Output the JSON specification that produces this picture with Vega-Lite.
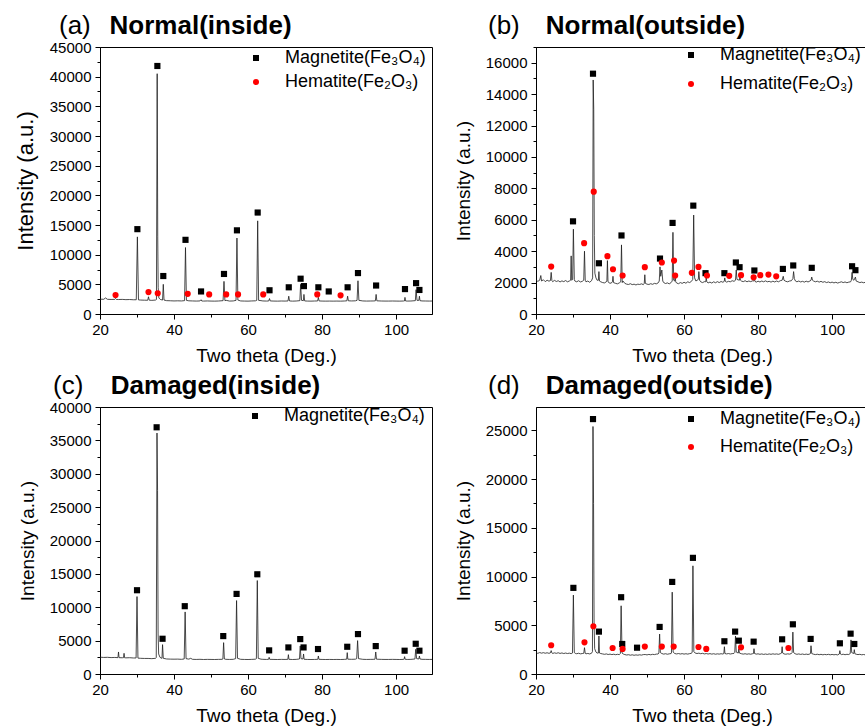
{
"$schema": "https://vega.github.io/schema/vega-lite/v6.json",
"padding": {"left": 13, "top": 12, "right": 0, "bottom": 0},
"columns": 2,
"bounds": "flush",
"spacing": {"row": 93, "column": 104},
"resolve": {"scale": {"color": "independent", "shape": "independent", "x": "independent", "y": "independent"}},
"config": {
  "font": "Liberation Sans",
  "view": {"stroke": "#000000", "strokeWidth": 1},
  "axis": {"grid": false, "domainColor": "#000000", "tickColor": "#000000", "labelColor": "#000000", "titleColor": "#000000", "labelFont": "Liberation Sans", "titleFont": "Liberation Sans", "labelFontSize": 15, "titleFontSize": 19, "titleFontWeight": "normal", "labelFlush": false, "labelOverlap": false},
  "axisX": {"labelPadding": 3, "titlePadding": 9},
  "axisY": {"labelPadding": 4, "titlePadding": 12},
  "title": {"anchor": "start", "frame": "group", "fontSize": 26, "fontWeight": "normal", "font": "Liberation Sans", "color": "#000000", "subtitleFontSize": 26, "subtitleFontWeight": "bold", "subtitleFont": "Liberation Sans", "subtitleColor": "#000000", "subtitlePadding": -26, "offset": 1},
  "legend": {"orient": "none", "title": null, "labelFont": "Liberation Sans", "labelFontSize": 18, "labelColor": "#000000", "labelLimit": 400, "symbolSize": 36, "symbolStrokeWidth": 0, "labelOffset": 20, "rowPadding": 6}
},
"datasets": {
"la": [{"x":20,"y":2500},{"x":21,"y":2480},{"x":21.5,"y":2700},{"x":22,"y":2480},{"x":23,"y":2450},{"x":24,"y":2470},{"x":24.2,"y":2620},{"x":24.4,"y":2460},{"x":25,"y":2440},{"x":26,"y":2460},{"x":27,"y":2420},{"x":28,"y":2440},{"x":29,"y":2400},{"x":29.8,"y":2400},{"x":30.1,"y":13000},{"x":30.4,"y":2380},{"x":31,"y":2350},{"x":32,"y":2330},{"x":32.9,"y":2320},{"x":33.1,"y":2900},{"x":33.3,"y":2330},{"x":34,"y":2300},{"x":35,"y":2350},{"x":35.25,"y":2450},{"x":35.45,"y":40500},{"x":35.6,"y":13000},{"x":35.72,"y":4500},{"x":35.9,"y":2700},{"x":36.3,"y":2450},{"x":36.9,"y":2350},{"x":37.1,"y":5000},{"x":37.3,"y":2350},{"x":38,"y":2250},{"x":39,"y":2230},{"x":40,"y":2200},{"x":41,"y":2220},{"x":42,"y":2200},{"x":42.85,"y":2250},{"x":43.1,"y":11200},{"x":43.35,"y":2300},{"x":44,"y":2220},{"x":45,"y":2200},{"x":46,"y":2180},{"x":47,"y":2200},{"x":47.3,"y":2400},{"x":47.5,"y":2190},{"x":48,"y":2180},{"x":49,"y":2200},{"x":50,"y":2180},{"x":51,"y":2170},{"x":52,"y":2190},{"x":53.25,"y":2250},{"x":53.5,"y":5500},{"x":53.75,"y":2250},{"x":54.1,"y":2300},{"x":55,"y":2180},{"x":56,"y":2200},{"x":56.75,"y":2300},{"x":57.0,"y":12800},{"x":57.25,"y":2350},{"x":58,"y":2200},{"x":59,"y":2180},{"x":60,"y":2170},{"x":61,"y":2200},{"x":62,"y":2220},{"x":62.35,"y":2300},{"x":62.6,"y":15700},{"x":62.85,"y":2300},{"x":63.5,"y":2250},{"x":64,"y":2200},{"x":65,"y":2180},{"x":65.6,"y":2200},{"x":65.8,"y":2600},{"x":66.0,"y":2200},{"x":67,"y":2180},{"x":68,"y":2170},{"x":69,"y":2190},{"x":70,"y":2180},{"x":70.8,"y":2200},{"x":71.0,"y":3000},{"x":71.2,"y":2200},{"x":72,"y":2170},{"x":73,"y":2190},{"x":74.0,"y":2250},{"x":74.2,"y":5000},{"x":74.45,"y":2300},{"x":74.95,"y":2250},{"x":75.1,"y":3300},{"x":75.3,"y":2200},{"x":76,"y":2180},{"x":77,"y":2170},{"x":78,"y":2190},{"x":78.8,"y":2200},{"x":79.0,"y":2800},{"x":79.2,"y":2200},{"x":80,"y":2180},{"x":81,"y":2170},{"x":82,"y":2180},{"x":83,"y":2170},{"x":84,"y":2180},{"x":85,"y":2170},{"x":86,"y":2190},{"x":86.7,"y":2220},{"x":86.9,"y":3000},{"x":87.1,"y":2220},{"x":88,"y":2200},{"x":89,"y":2220},{"x":89.45,"y":2300},{"x":89.7,"y":5600},{"x":89.95,"y":2300},{"x":91,"y":2200},{"x":92,"y":2180},{"x":93,"y":2190},{"x":94,"y":2200},{"x":94.4,"y":2220},{"x":94.6,"y":3300},{"x":94.8,"y":2220},{"x":96,"y":2190},{"x":97,"y":2180},{"x":98,"y":2180},{"x":99,"y":2190},{"x":100,"y":2180},{"x":101,"y":2170},{"x":102,"y":2190},{"x":102.25,"y":2200},{"x":102.4,"y":2800},{"x":102.55,"y":2200},{"x":103,"y":2180},{"x":104,"y":2190},{"x":105.2,"y":2250},{"x":105.4,"y":4100},{"x":105.65,"y":2300},{"x":106.15,"y":2300},{"x":106.3,"y":3000},{"x":106.45,"y":2250},{"x":107,"y":2200},{"x":108,"y":2190},{"x":109,"y":2180},{"x":110,"y":2190}],
"pa": [{"x":30.1,"y":14300,"phase":"Magnetite(Fe₃O₄)"},{"x":35.5,"y":41800,"phase":"Magnetite(Fe₃O₄)"},{"x":37.1,"y":6400,"phase":"Magnetite(Fe₃O₄)"},{"x":43.1,"y":12500,"phase":"Magnetite(Fe₃O₄)"},{"x":47.3,"y":3800,"phase":"Magnetite(Fe₃O₄)"},{"x":53.5,"y":6750,"phase":"Magnetite(Fe₃O₄)"},{"x":57.0,"y":14100,"phase":"Magnetite(Fe₃O₄)"},{"x":62.6,"y":17100,"phase":"Magnetite(Fe₃O₄)"},{"x":65.8,"y":4000,"phase":"Magnetite(Fe₃O₄)"},{"x":71.0,"y":4500,"phase":"Magnetite(Fe₃O₄)"},{"x":74.2,"y":5950,"phase":"Magnetite(Fe₃O₄)"},{"x":75.1,"y":4700,"phase":"Magnetite(Fe₃O₄)"},{"x":79.0,"y":4500,"phase":"Magnetite(Fe₃O₄)"},{"x":81.8,"y":3800,"phase":"Magnetite(Fe₃O₄)"},{"x":86.9,"y":4500,"phase":"Magnetite(Fe₃O₄)"},{"x":89.7,"y":6900,"phase":"Magnetite(Fe₃O₄)"},{"x":94.6,"y":4800,"phase":"Magnetite(Fe₃O₄)"},{"x":102.4,"y":4200,"phase":"Magnetite(Fe₃O₄)"},{"x":105.4,"y":5200,"phase":"Magnetite(Fe₃O₄)"},{"x":106.3,"y":4050,"phase":"Magnetite(Fe₃O₄)"},{"x":24.2,"y":3200,"phase":"Hematite(Fe₂O₃)"},{"x":33.1,"y":3700,"phase":"Hematite(Fe₂O₃)"},{"x":35.6,"y":3500,"phase":"Hematite(Fe₂O₃)"},{"x":43.7,"y":3400,"phase":"Hematite(Fe₂O₃)"},{"x":49.5,"y":3300,"phase":"Hematite(Fe₂O₃)"},{"x":54.1,"y":3300,"phase":"Hematite(Fe₂O₃)"},{"x":57.3,"y":3300,"phase":"Hematite(Fe₂O₃)"},{"x":64.1,"y":3300,"phase":"Hematite(Fe₂O₃)"},{"x":78.7,"y":3300,"phase":"Hematite(Fe₂O₃)"},{"x":85.0,"y":3150,"phase":"Hematite(Fe₂O₃)"}],
"lb": [{"x":20,"y":2150},{"x":20.5,"y":2080},{"x":21,"y":2150},{"x":21.3,"y":2450},{"x":21.5,"y":2100},{"x":22,"y":2180},{"x":22.5,"y":2060},{"x":23,"y":2150},{"x":23.5,"y":2090},{"x":23.9,"y":2130},{"x":24.1,"y":2650},{"x":24.3,"y":2120},{"x":24.5,"y":2060},{"x":25,"y":2140},{"x":25.5,"y":2070},{"x":26,"y":2120},{"x":26.5,"y":2040},{"x":27,"y":2110},{"x":27.5,"y":2060},{"x":28,"y":2130},{"x":28.5,"y":2050},{"x":29,"y":2100},{"x":29.35,"y":2150},{"x":29.5,"y":3700},{"x":29.65,"y":2150},{"x":29.9,"y":2200},{"x":30.1,"y":5400},{"x":30.35,"y":2200},{"x":30.5,"y":2100},{"x":31,"y":2050},{"x":31.5,"y":2120},{"x":32,"y":2040},{"x":32.5,"y":2080},{"x":32.9,"y":2150},{"x":33.1,"y":4000},{"x":33.3,"y":2150},{"x":33.5,"y":2050},{"x":34,"y":2100},{"x":34.5,"y":2020},{"x":35,"y":2120},{"x":35.3,"y":2300},{"x":35.45,"y":14900},{"x":35.6,"y":13000},{"x":35.75,"y":5000},{"x":35.9,"y":2600},{"x":36.2,"y":2300},{"x":36.5,"y":2150},{"x":36.85,"y":2150},{"x":37.0,"y":2700},{"x":37.15,"y":2100},{"x":37.5,"y":2050},{"x":38,"y":2000},{"x":38.5,"y":1980},{"x":39,"y":2050},{"x":39.15,"y":2100},{"x":39.3,"y":3400},{"x":39.45,"y":2050},{"x":40,"y":1950},{"x":40.5,"y":2000},{"x":40.65,"y":2050},{"x":40.8,"y":2400},{"x":40.95,"y":2000},{"x":41.5,"y":1950},{"x":42,"y":1920},{"x":42.5,"y":1980},{"x":42.9,"y":2050},{"x":43.1,"y":4400},{"x":43.3,"y":2000},{"x":43.5,"y":2100},{"x":44,"y":1950},{"x":44.5,"y":1900},{"x":45,"y":1880},{"x":45.5,"y":1930},{"x":46,"y":1870},{"x":46.5,"y":1900},{"x":47,"y":1850},{"x":47.5,"y":1900},{"x":48,"y":1880},{"x":48.5,"y":1920},{"x":49,"y":1870},{"x":49.25,"y":1950},{"x":49.4,"y":2500},{"x":49.55,"y":1950},{"x":50,"y":1900},{"x":50.5,"y":1880},{"x":51,"y":1930},{"x":51.5,"y":1890},{"x":52,"y":1950},{"x":52.5,"y":1920},{"x":53,"y":1980},{"x":53.3,"y":2100},{"x":53.5,"y":3000},{"x":53.7,"y":2400},{"x":54.0,"y":2800},{"x":54.25,"y":2100},{"x":54.5,"y":2000},{"x":55,"y":1940},{"x":55.5,"y":1980},{"x":56,"y":1920},{"x":56.5,"y":2000},{"x":56.8,"y":2100},{"x":57.0,"y":5200},{"x":57.2,"y":2150},{"x":57.45,"y":2100},{"x":57.6,"y":2400},{"x":57.75,"y":2050},{"x":58,"y":1970},{"x":58.5,"y":1930},{"x":59,"y":2000},{"x":59.5,"y":1950},{"x":60,"y":2020},{"x":60.5,"y":1960},{"x":61,"y":2050},{"x":61.5,"y":2000},{"x":62,"y":2080},{"x":62.35,"y":2200},{"x":62.6,"y":6300},{"x":62.85,"y":2300},{"x":63.2,"y":2100},{"x":63.85,"y":2200},{"x":64.0,"y":2700},{"x":64.2,"y":2150},{"x":64.5,"y":2050},{"x":65,"y":2000},{"x":65.5,"y":2060},{"x":65.85,"y":2050},{"x":66.0,"y":2300},{"x":66.15,"y":2050},{"x":66.5,"y":1980},{"x":67,"y":2030},{"x":67.5,"y":1970},{"x":68,"y":2050},{"x":68.5,"y":1990},{"x":69,"y":2060},{"x":69.5,"y":2000},{"x":70,"y":2070},{"x":70.5,"y":2020},{"x":70.85,"y":2080},{"x":71.0,"y":2300},{"x":71.15,"y":2080},{"x":71.5,"y":2030},{"x":72,"y":2080},{"x":72.5,"y":2050},{"x":73,"y":2120},{"x":73.5,"y":2080},{"x":73.9,"y":2150},{"x":74.1,"y":2800},{"x":74.3,"y":2200},{"x":74.95,"y":2150},{"x":75.1,"y":2400},{"x":75.25,"y":2150},{"x":75.5,"y":2100},{"x":76,"y":2060},{"x":76.5,"y":2120},{"x":77,"y":2050},{"x":77.5,"y":2100},{"x":78,"y":2060},{"x":78.5,"y":2110},{"x":78.85,"y":2100},{"x":79.0,"y":2250},{"x":79.15,"y":2080},{"x":79.5,"y":2030},{"x":80,"y":2090},{"x":80.5,"y":2040},{"x":81,"y":2100},{"x":81.5,"y":2050},{"x":82,"y":2110},{"x":82.5,"y":2050},{"x":83,"y":2080},{"x":83.5,"y":2030},{"x":84,"y":2090},{"x":84.5,"y":2040},{"x":85,"y":2100},{"x":85.5,"y":2050},{"x":86,"y":2120},{"x":86.5,"y":2150},{"x":86.8,"y":2400},{"x":87.0,"y":2150},{"x":87.5,"y":2080},{"x":88,"y":2050},{"x":88.5,"y":2100},{"x":89,"y":2120},{"x":89.4,"y":2250},{"x":89.6,"y":2700},{"x":89.8,"y":2250},{"x":90.1,"y":2100},{"x":90.5,"y":2050},{"x":91,"y":2100},{"x":91.5,"y":2040},{"x":92,"y":2080},{"x":92.5,"y":2030},{"x":93,"y":2090},{"x":93.5,"y":2040},{"x":94,"y":2100},{"x":94.3,"y":2150},{"x":94.5,"y":2350},{"x":94.7,"y":2150},{"x":95,"y":2100},{"x":95.5,"y":2050},{"x":96,"y":2090},{"x":96.5,"y":2030},{"x":97,"y":2080},{"x":97.5,"y":2020},{"x":98,"y":2060},{"x":98.5,"y":2000},{"x":99,"y":2040},{"x":99.5,"y":1990},{"x":100,"y":2030},{"x":100.5,"y":1980},{"x":101,"y":2020},{"x":101.5,"y":1970},{"x":102,"y":2010},{"x":102.5,"y":2050},{"x":103,"y":2000},{"x":103.5,"y":2040},{"x":104,"y":1990},{"x":104.5,"y":2030},{"x":105,"y":2050},{"x":105.2,"y":2150},{"x":105.4,"y":2650},{"x":105.6,"y":2200},{"x":105.9,"y":2150},{"x":106.3,"y":2350},{"x":106.5,"y":2100},{"x":107,"y":2050},{"x":107.5,"y":2000},{"x":108,"y":2030},{"x":108.5,"y":1990},{"x":109,"y":2020},{"x":109.5,"y":1980},{"x":110,"y":2000}],
"pb": [{"x":30.0,"y":5900,"phase":"Magnetite(Fe₃O₄)"},{"x":35.4,"y":15300,"phase":"Magnetite(Fe₃O₄)"},{"x":37.0,"y":3230,"phase":"Magnetite(Fe₃O₄)"},{"x":43.1,"y":5000,"phase":"Magnetite(Fe₃O₄)"},{"x":53.5,"y":3530,"phase":"Magnetite(Fe₃O₄)"},{"x":56.9,"y":5800,"phase":"Magnetite(Fe₃O₄)"},{"x":62.5,"y":6900,"phase":"Magnetite(Fe₃O₄)"},{"x":65.8,"y":2600,"phase":"Magnetite(Fe₃O₄)"},{"x":70.9,"y":2600,"phase":"Magnetite(Fe₃O₄)"},{"x":74.0,"y":3280,"phase":"Magnetite(Fe₃O₄)"},{"x":75.0,"y":2980,"phase":"Magnetite(Fe₃O₄)"},{"x":79.0,"y":2770,"phase":"Magnetite(Fe₃O₄)"},{"x":86.7,"y":2870,"phase":"Magnetite(Fe₃O₄)"},{"x":89.5,"y":3090,"phase":"Magnetite(Fe₃O₄)"},{"x":94.5,"y":2940,"phase":"Magnetite(Fe₃O₄)"},{"x":105.4,"y":3040,"phase":"Magnetite(Fe₃O₄)"},{"x":106.3,"y":2790,"phase":"Magnetite(Fe₃O₄)"},{"x":24.1,"y":3020,"phase":"Hematite(Fe₂O₃)"},{"x":33.0,"y":4510,"phase":"Hematite(Fe₂O₃)"},{"x":35.6,"y":7790,"phase":"Hematite(Fe₂O₃)"},{"x":39.3,"y":3680,"phase":"Hematite(Fe₂O₃)"},{"x":40.8,"y":2850,"phase":"Hematite(Fe₂O₃)"},{"x":43.4,"y":2450,"phase":"Hematite(Fe₂O₃)"},{"x":49.4,"y":2980,"phase":"Hematite(Fe₂O₃)"},{"x":54.0,"y":3280,"phase":"Hematite(Fe₂O₃)"},{"x":57.3,"y":3400,"phase":"Hematite(Fe₂O₃)"},{"x":57.6,"y":2450,"phase":"Hematite(Fe₂O₃)"},{"x":62.1,"y":2620,"phase":"Hematite(Fe₂O₃)"},{"x":63.9,"y":3000,"phase":"Hematite(Fe₂O₃)"},{"x":66.2,"y":2450,"phase":"Hematite(Fe₂O₃)"},{"x":72.2,"y":2430,"phase":"Hematite(Fe₂O₃)"},{"x":75.4,"y":2470,"phase":"Hematite(Fe₂O₃)"},{"x":78.8,"y":2340,"phase":"Hematite(Fe₂O₃)"},{"x":80.6,"y":2470,"phase":"Hematite(Fe₂O₃)"},{"x":82.8,"y":2510,"phase":"Hematite(Fe₂O₃)"},{"x":84.9,"y":2400,"phase":"Hematite(Fe₂O₃)"}],
"lc": [{"x":20,"y":2520},{"x":21,"y":2480},{"x":22,"y":2500},{"x":23,"y":2460},{"x":24,"y":2480},{"x":24.85,"y":2450},{"x":25.0,"y":3300},{"x":25.15,"y":2450},{"x":26,"y":2430},{"x":26.35,"y":2450},{"x":26.5,"y":3100},{"x":26.65,"y":2430},{"x":27,"y":2420},{"x":28,"y":2440},{"x":29,"y":2400},{"x":29.75,"y":2400},{"x":30.0,"y":11600},{"x":30.25,"y":2380},{"x":31,"y":2350},{"x":32,"y":2330},{"x":33,"y":2330},{"x":34,"y":2300},{"x":35,"y":2350},{"x":35.2,"y":2450},{"x":35.4,"y":36100},{"x":35.55,"y":27500},{"x":35.7,"y":6000},{"x":35.85,"y":3000},{"x":36.2,"y":2500},{"x":36.5,"y":2400},{"x":36.75,"y":2350},{"x":36.9,"y":4400},{"x":37.1,"y":2350},{"x":38,"y":2250},{"x":39,"y":2230},{"x":40,"y":2220},{"x":41,"y":2230},{"x":42,"y":2200},{"x":42.75,"y":2250},{"x":43.0,"y":9300},{"x":43.25,"y":2300},{"x":44,"y":2230},{"x":44.5,"y":2350},{"x":45,"y":2200},{"x":46,"y":2180},{"x":47,"y":2200},{"x":48,"y":2170},{"x":49,"y":2190},{"x":50,"y":2180},{"x":51,"y":2170},{"x":52,"y":2190},{"x":53,"y":2200},{"x":53.2,"y":2250},{"x":53.4,"y":4700},{"x":53.6,"y":2250},{"x":54,"y":2200},{"x":55,"y":2180},{"x":56,"y":2200},{"x":56.65,"y":2300},{"x":56.9,"y":11000},{"x":57.15,"y":2350},{"x":58,"y":2200},{"x":59,"y":2180},{"x":60,"y":2170},{"x":61,"y":2190},{"x":62,"y":2220},{"x":62.25,"y":2300},{"x":62.5,"y":14000},{"x":62.75,"y":2350},{"x":63.5,"y":2220},{"x":64,"y":2200},{"x":65,"y":2180},{"x":65.55,"y":2200},{"x":65.7,"y":2500},{"x":65.85,"y":2200},{"x":67,"y":2180},{"x":68,"y":2170},{"x":69,"y":2190},{"x":70,"y":2180},{"x":70.75,"y":2200},{"x":70.9,"y":2900},{"x":71.05,"y":2200},{"x":72,"y":2170},{"x":73,"y":2190},{"x":73.9,"y":2250},{"x":74.1,"y":4200},{"x":74.3,"y":2300},{"x":74.85,"y":2250},{"x":75.0,"y":3000},{"x":75.15,"y":2200},{"x":76,"y":2180},{"x":77,"y":2170},{"x":78,"y":2180},{"x":78.85,"y":2200},{"x":79.0,"y":2700},{"x":79.15,"y":2200},{"x":80,"y":2180},{"x":81,"y":2170},{"x":82,"y":2180},{"x":83,"y":2170},{"x":84,"y":2180},{"x":85,"y":2170},{"x":86,"y":2190},{"x":86.65,"y":2220},{"x":86.8,"y":3200},{"x":86.95,"y":2220},{"x":88,"y":2200},{"x":89,"y":2220},{"x":89.35,"y":2300},{"x":89.6,"y":5000},{"x":89.85,"y":2300},{"x":91,"y":2200},{"x":92,"y":2180},{"x":93,"y":2190},{"x":94,"y":2200},{"x":94.3,"y":2220},{"x":94.5,"y":3300},{"x":94.7,"y":2220},{"x":96,"y":2190},{"x":97,"y":2180},{"x":98,"y":2180},{"x":99,"y":2190},{"x":100,"y":2180},{"x":101,"y":2170},{"x":102,"y":2190},{"x":102.15,"y":2200},{"x":102.3,"y":2600},{"x":102.45,"y":2200},{"x":103,"y":2180},{"x":104,"y":2190},{"x":105.1,"y":2250},{"x":105.3,"y":3700},{"x":105.55,"y":2300},{"x":106.15,"y":2250},{"x":106.3,"y":2700},{"x":106.45,"y":2250},{"x":107,"y":2200},{"x":108,"y":2190},{"x":109,"y":2180},{"x":110,"y":2190}],
"pc": [{"x":30.0,"y":12550,"phase":"Magnetite(Fe₃O₄)"},{"x":35.3,"y":36960,"phase":"Magnetite(Fe₃O₄)"},{"x":36.9,"y":5280,"phase":"Magnetite(Fe₃O₄)"},{"x":42.9,"y":10160,"phase":"Magnetite(Fe₃O₄)"},{"x":53.3,"y":5680,"phase":"Magnetite(Fe₃O₄)"},{"x":56.9,"y":12000,"phase":"Magnetite(Fe₃O₄)"},{"x":62.5,"y":14940,"phase":"Magnetite(Fe₃O₄)"},{"x":65.7,"y":3540,"phase":"Magnetite(Fe₃O₄)"},{"x":70.9,"y":3980,"phase":"Magnetite(Fe₃O₄)"},{"x":74.1,"y":5230,"phase":"Magnetite(Fe₃O₄)"},{"x":75.0,"y":3980,"phase":"Magnetite(Fe₃O₄)"},{"x":78.9,"y":3740,"phase":"Magnetite(Fe₃O₄)"},{"x":86.8,"y":4080,"phase":"Magnetite(Fe₃O₄)"},{"x":89.7,"y":5980,"phase":"Magnetite(Fe₃O₄)"},{"x":94.5,"y":4180,"phase":"Magnetite(Fe₃O₄)"},{"x":102.3,"y":3490,"phase":"Magnetite(Fe₃O₄)"},{"x":105.3,"y":4530,"phase":"Magnetite(Fe₃O₄)"},{"x":106.3,"y":3490,"phase":"Magnetite(Fe₃O₄)"}],
"ld": [{"x":20,"y":2180},{"x":20.5,"y":2120},{"x":21,"y":2200},{"x":21.5,"y":2140},{"x":22,"y":2190},{"x":22.5,"y":2130},{"x":23,"y":2180},{"x":23.5,"y":2120},{"x":23.9,"y":2170},{"x":24.1,"y":2400},{"x":24.3,"y":2160},{"x":24.5,"y":2110},{"x":25,"y":2170},{"x":25.5,"y":2120},{"x":26,"y":2180},{"x":26.5,"y":2110},{"x":27,"y":2160},{"x":27.5,"y":2100},{"x":28,"y":2150},{"x":28.5,"y":2100},{"x":29,"y":2140},{"x":29.5,"y":2090},{"x":29.85,"y":2150},{"x":30.1,"y":8100},{"x":30.35,"y":2200},{"x":30.6,"y":2120},{"x":31,"y":2080},{"x":31.5,"y":2130},{"x":32,"y":2070},{"x":32.5,"y":2100},{"x":32.9,"y":2120},{"x":33.1,"y":2700},{"x":33.3,"y":2120},{"x":33.5,"y":2070},{"x":34,"y":2110},{"x":34.5,"y":2060},{"x":35,"y":2130},{"x":35.25,"y":2300},{"x":35.4,"y":25400},{"x":35.55,"y":17500},{"x":35.7,"y":5000},{"x":35.85,"y":2600},{"x":36.2,"y":2250},{"x":36.5,"y":2150},{"x":36.85,"y":2150},{"x":37.0,"y":3900},{"x":37.15,"y":2150},{"x":37.5,"y":2100},{"x":38,"y":2060},{"x":38.5,"y":2020},{"x":39,"y":2060},{"x":39.5,"y":2000},{"x":40,"y":2040},{"x":40.5,"y":1990},{"x":41,"y":2030},{"x":41.5,"y":1980},{"x":42,"y":2020},{"x":42.5,"y":1990},{"x":42.8,"y":2100},{"x":43.0,"y":7000},{"x":43.25,"y":2150},{"x":43.6,"y":2050},{"x":44,"y":1990},{"x":44.5,"y":1950},{"x":45,"y":1980},{"x":45.5,"y":1930},{"x":46,"y":1970},{"x":46.5,"y":1920},{"x":47,"y":1960},{"x":47.5,"y":1930},{"x":48,"y":1970},{"x":48.5,"y":1940},{"x":49,"y":1990},{"x":49.5,"y":2000},{"x":50,"y":1960},{"x":50.5,"y":2010},{"x":51,"y":1970},{"x":51.5,"y":2020},{"x":52,"y":1990},{"x":52.5,"y":2040},{"x":53,"y":2050},{"x":53.2,"y":2150},{"x":53.4,"y":4100},{"x":53.6,"y":2200},{"x":54,"y":2100},{"x":54.5,"y":2040},{"x":55,"y":2080},{"x":55.5,"y":2030},{"x":56,"y":2070},{"x":56.5,"y":2100},{"x":56.6,"y":2150},{"x":56.8,"y":8400},{"x":57.05,"y":2250},{"x":57.5,"y":2100},{"x":58,"y":2060},{"x":58.5,"y":2100},{"x":59,"y":2050},{"x":59.5,"y":2090},{"x":60,"y":2040},{"x":60.5,"y":2080},{"x":61,"y":2040},{"x":61.5,"y":2090},{"x":62,"y":2120},{"x":62.2,"y":2250},{"x":62.4,"y":11100},{"x":62.65,"y":2300},{"x":63,"y":2150},{"x":63.5,"y":2100},{"x":64,"y":2140},{"x":64.5,"y":2080},{"x":65,"y":2120},{"x":65.5,"y":2060},{"x":66,"y":2100},{"x":66.5,"y":2050},{"x":67,"y":2090},{"x":67.5,"y":2040},{"x":68,"y":2080},{"x":68.5,"y":2030},{"x":69,"y":2070},{"x":69.5,"y":2040},{"x":70,"y":2080},{"x":70.5,"y":2050},{"x":70.75,"y":2100},{"x":70.9,"y":2800},{"x":71.05,"y":2100},{"x":71.5,"y":2060},{"x":72,"y":2100},{"x":72.5,"y":2050},{"x":73,"y":2090},{"x":73.5,"y":2120},{"x":73.7,"y":2200},{"x":73.9,"y":3900},{"x":74.1,"y":2250},{"x":74.65,"y":2150},{"x":74.8,"y":2600},{"x":74.95,"y":2150},{"x":75.5,"y":2080},{"x":76,"y":2040},{"x":76.5,"y":2080},{"x":77,"y":2030},{"x":77.5,"y":2070},{"x":78,"y":2030},{"x":78.5,"y":2080},{"x":78.75,"y":2100},{"x":78.9,"y":2600},{"x":79.05,"y":2100},{"x":79.5,"y":2040},{"x":80,"y":2070},{"x":80.5,"y":2020},{"x":81,"y":2060},{"x":81.5,"y":2010},{"x":82,"y":2050},{"x":82.5,"y":2010},{"x":83,"y":2060},{"x":83.5,"y":2020},{"x":84,"y":2070},{"x":84.5,"y":2030},{"x":85,"y":2060},{"x":85.5,"y":2020},{"x":86,"y":2080},{"x":86.35,"y":2150},{"x":86.5,"y":2800},{"x":86.65,"y":2150},{"x":87,"y":2060},{"x":87.5,"y":2030},{"x":88,"y":2070},{"x":88.5,"y":2040},{"x":89,"y":2100},{"x":89.2,"y":2200},{"x":89.4,"y":4300},{"x":89.6,"y":2200},{"x":90,"y":2080},{"x":90.5,"y":2020},{"x":91,"y":2060},{"x":91.5,"y":2010},{"x":92,"y":2050},{"x":92.5,"y":2000},{"x":93,"y":2040},{"x":93.5,"y":2000},{"x":94,"y":2060},{"x":94.15,"y":2100},{"x":94.3,"y":2900},{"x":94.5,"y":2100},{"x":95,"y":2030},{"x":95.5,"y":1990},{"x":96,"y":2030},{"x":96.5,"y":1980},{"x":97,"y":2020},{"x":97.5,"y":1970},{"x":98,"y":2010},{"x":98.5,"y":1980},{"x":99,"y":2020},{"x":99.5,"y":1970},{"x":100,"y":2010},{"x":100.5,"y":1970},{"x":101,"y":2000},{"x":101.5,"y":1960},{"x":101.95,"y":2050},{"x":102.1,"y":2400},{"x":102.25,"y":2050},{"x":102.5,"y":1990},{"x":103,"y":2030},{"x":103.5,"y":1980},{"x":104,"y":2020},{"x":104.5,"y":2000},{"x":104.9,"y":2100},{"x":105.1,"y":3500},{"x":105.3,"y":2200},{"x":105.85,"y":2100},{"x":106.0,"y":2500},{"x":106.15,"y":2080},{"x":106.5,"y":2030},{"x":107,"y":1990},{"x":107.5,"y":2020},{"x":108,"y":1970},{"x":108.5,"y":2000},{"x":109,"y":1960},{"x":109.5,"y":1990},{"x":110,"y":1970}],
"pd": [{"x":30.1,"y":8840,"phase":"Magnetite(Fe₃O₄)"},{"x":35.4,"y":26160,"phase":"Magnetite(Fe₃O₄)"},{"x":37.0,"y":4350,"phase":"Magnetite(Fe₃O₄)"},{"x":43.0,"y":7880,"phase":"Magnetite(Fe₃O₄)"},{"x":43.3,"y":3080,"phase":"Magnetite(Fe₃O₄)"},{"x":47.3,"y":2700,"phase":"Magnetite(Fe₃O₄)"},{"x":53.4,"y":4830,"phase":"Magnetite(Fe₃O₄)"},{"x":56.8,"y":9450,"phase":"Magnetite(Fe₃O₄)"},{"x":62.4,"y":11920,"phase":"Magnetite(Fe₃O₄)"},{"x":70.9,"y":3360,"phase":"Magnetite(Fe₃O₄)"},{"x":73.8,"y":4350,"phase":"Magnetite(Fe₃O₄)"},{"x":74.8,"y":3420,"phase":"Magnetite(Fe₃O₄)"},{"x":78.8,"y":3320,"phase":"Magnetite(Fe₃O₄)"},{"x":86.5,"y":3560,"phase":"Magnetite(Fe₃O₄)"},{"x":89.4,"y":5100,"phase":"Magnetite(Fe₃O₄)"},{"x":94.2,"y":3600,"phase":"Magnetite(Fe₃O₄)"},{"x":102.1,"y":3150,"phase":"Magnetite(Fe₃O₄)"},{"x":105.0,"y":4140,"phase":"Magnetite(Fe₃O₄)"},{"x":106.0,"y":3080,"phase":"Magnetite(Fe₃O₄)"},{"x":24.1,"y":2950,"phase":"Hematite(Fe₂O₃)"},{"x":33.1,"y":3250,"phase":"Hematite(Fe₂O₃)"},{"x":35.5,"y":4900,"phase":"Hematite(Fe₂O₃)"},{"x":40.7,"y":2670,"phase":"Hematite(Fe₂O₃)"},{"x":43.4,"y":2570,"phase":"Hematite(Fe₂O₃)"},{"x":49.4,"y":2810,"phase":"Hematite(Fe₂O₃)"},{"x":54.0,"y":2810,"phase":"Hematite(Fe₂O₃)"},{"x":57.2,"y":2810,"phase":"Hematite(Fe₂O₃)"},{"x":63.9,"y":2770,"phase":"Hematite(Fe₂O₃)"},{"x":66.0,"y":2570,"phase":"Hematite(Fe₂O₃)"},{"x":75.4,"y":2740,"phase":"Hematite(Fe₂O₃)"},{"x":88.2,"y":2670,"phase":"Hematite(Fe₂O₃)"}]
},
"concat": [
{
 "width": 332, "height": 267,
 "title": {"text": "(a)", "subtitle": "\u200b\u00a0\u00a0\u00a0\u00a0\u00a0\u00a0\u00a0Normal(inside)", "dx": -41},
 "layer": [
  {"data": {"name": "la"}, "mark": {"type": "line", "color": "#1e1e1e", "strokeWidth": 0.8, "clip": true},
   "encoding": {
    "x": {"field": "x", "type": "quantitative", "title": "Two theta (Deg.)", "scale": {"domain": [20, 109.7], "nice": false, "zero": false},
          "axis": {"tickCount": 100, "labelOverlap": false, "values": [20,30,40,50,60,70,80,90,100], "labelExpr": "datum.value % 20 === 0 ? datum.label : ''", "tickSize": {"condition": {"test": "datum.value % 20 === 0", "value": 5}, "value": 3}}},
    "y": {"field": "y", "type": "quantitative", "title": "Intensity (a.u.)", "scale": {"domain": [0, 45000], "nice": false},
          "axis": {"tickCount": 100, "labelOverlap": false, "format": "d", "titleFontSize": 22, "values": [0,2500,5000,7500,10000,12500,15000,17500,20000,22500,25000,27500,30000,32500,35000,37500,40000,42500,45000], "labelExpr": "datum.value % 5000 === 0 ? datum.label : ''", "tickSize": {"condition": {"test": "datum.value % 5000 === 0", "value": 5}, "value": 3}}}
   }},
  {"data": {"name": "pa"}, "mark": {"type": "point", "filled": true, "size": 38, "opacity": 1, "clip": true},
   "encoding": {
    "x": {"field": "x", "type": "quantitative"},
    "y": {"field": "y", "type": "quantitative"},
    "color": {"field": "phase", "type": "nominal", "scale": {"domain": ["Magnetite(Fe₃O₄)", "Hematite(Fe₂O₃)"], "range": ["#000000", "#ff0000"]}, "legend": {"legendX": 147, "legendY": 2}},
    "shape": {"field": "phase", "type": "nominal", "scale": {"domain": ["Magnetite(Fe₃O₄)", "Hematite(Fe₂O₃)"], "range": ["square", "circle"]}, "legend": {"legendX": 147, "legendY": 2}}
   }}
 ]
},
{
 "width": 332, "height": 267,
 "title": {"text": "(b)", "subtitle": "\u200b\u00a0\u00a0\u00a0\u00a0\u00a0\u00a0\u00a0\u00a0Normal(outside)", "dx": -48},
 "layer": [
  {"data": {"name": "lb"}, "mark": {"type": "line", "color": "#1e1e1e", "strokeWidth": 0.8, "clip": true},
   "encoding": {
    "x": {"field": "x", "type": "quantitative", "title": "Two theta (Deg.)", "scale": {"domain": [20, 109.7], "nice": false, "zero": false},
          "axis": {"tickCount": 100, "labelOverlap": false, "values": [20,30,40,50,60,70,80,90,100], "labelExpr": "datum.value % 20 === 0 ? datum.label : ''", "tickSize": {"condition": {"test": "datum.value % 20 === 0", "value": 5}, "value": 3}}},
    "y": {"field": "y", "type": "quantitative", "title": "Intensity (a.u.)", "scale": {"domain": [0, 17000], "nice": false},
          "axis": {"tickCount": 100, "labelOverlap": false, "format": "d", "values": [0,1000,2000,3000,4000,5000,6000,7000,8000,9000,10000,11000,12000,13000,14000,15000,16000,17000], "labelExpr": "datum.value % 2000 === 0 ? datum.label : ''", "tickSize": {"condition": {"test": "datum.value % 2000 === 0", "value": 5}, "value": 3}}}
   }},
  {"data": {"name": "pb"}, "mark": {"type": "point", "filled": true, "size": 38, "opacity": 1, "clip": true},
   "encoding": {
    "x": {"field": "x", "type": "quantitative"},
    "y": {"field": "y", "type": "quantitative"},
    "color": {"field": "phase", "type": "nominal", "scale": {"domain": ["Magnetite(Fe₃O₄)", "Hematite(Fe₂O₃)"], "range": ["#000000", "#ff0000"]}, "legend": {"legendX": 146, "legendY": -1, "rowPadding": 11}},
    "shape": {"field": "phase", "type": "nominal", "scale": {"domain": ["Magnetite(Fe₃O₄)", "Hematite(Fe₂O₃)"], "range": ["square", "circle"]}, "legend": {"legendX": 146, "legendY": -1, "rowPadding": 11}}
   }}
 ]
},
{
 "width": 332, "height": 267,
 "title": {"text": "(c)", "subtitle": "\u200b\u00a0\u00a0\u00a0\u00a0\u00a0\u00a0\u00a0\u00a0Damaged(inside)", "dx": -47},
 "layer": [
  {"data": {"name": "lc"}, "mark": {"type": "line", "color": "#1e1e1e", "strokeWidth": 0.8, "clip": true},
   "encoding": {
    "x": {"field": "x", "type": "quantitative", "title": "Two theta (Deg.)", "scale": {"domain": [20, 109.7], "nice": false, "zero": false},
          "axis": {"tickCount": 100, "labelOverlap": false, "values": [20,30,40,50,60,70,80,90,100], "labelExpr": "datum.value % 20 === 0 ? datum.label : ''", "tickSize": {"condition": {"test": "datum.value % 20 === 0", "value": 5}, "value": 3}}},
    "y": {"field": "y", "type": "quantitative", "title": "Intensity (a.u.)", "scale": {"domain": [0, 40000], "nice": false},
          "axis": {"tickCount": 100, "labelOverlap": false, "format": "d", "values": [0,2500,5000,7500,10000,12500,15000,17500,20000,22500,25000,27500,30000,32500,35000,37500,40000], "labelExpr": "datum.value % 5000 === 0 ? datum.label : ''", "tickSize": {"condition": {"test": "datum.value % 5000 === 0", "value": 5}, "value": 3}}}
   }},
  {"data": {"name": "pc"}, "mark": {"type": "point", "filled": true, "size": 38, "opacity": 1, "clip": true},
   "encoding": {
    "x": {"field": "x", "type": "quantitative"},
    "y": {"field": "y", "type": "quantitative"},
    "color": {"field": "phase", "type": "nominal", "scale": {"domain": ["Magnetite(Fe₃O₄)"], "range": ["#000000"]}, "legend": {"legendX": 146, "legendY": 0}},
    "shape": {"field": "phase", "type": "nominal", "scale": {"domain": ["Magnetite(Fe₃O₄)"], "range": ["square"]}, "legend": {"legendX": 146, "legendY": 0}}
   }}
 ]
},
{
 "width": 332, "height": 267,
 "title": {"text": "(d)", "subtitle": "\u200b\u00a0\u00a0\u00a0\u00a0\u00a0\u00a0\u00a0\u00a0Damaged(outside)", "dx": -48, "offset": 8},
 "layer": [
  {"data": {"name": "ld"}, "mark": {"type": "line", "color": "#1e1e1e", "strokeWidth": 0.8, "clip": true},
   "encoding": {
    "x": {"field": "x", "type": "quantitative", "title": "Two theta (Deg.)", "scale": {"domain": [20, 109.7], "nice": false, "zero": false},
          "axis": {"tickCount": 100, "labelOverlap": false, "values": [20,30,40,50,60,70,80,90,100], "labelExpr": "datum.value % 20 === 0 ? datum.label : ''", "tickSize": {"condition": {"test": "datum.value % 20 === 0", "value": 5}, "value": 3}}},
    "y": {"field": "y", "type": "quantitative", "title": "Intensity (a.u.)", "scale": {"domain": [0, 27400], "nice": false},
          "axis": {"tickCount": 100, "labelOverlap": false, "format": "d", "values": [0,2500,5000,7500,10000,12500,15000,17500,20000,22500,25000], "labelExpr": "datum.value % 5000 === 0 ? datum.label : ''", "tickSize": {"condition": {"test": "datum.value % 5000 === 0", "value": 5}, "value": 3}}}
   }},
  {"data": {"name": "pd"}, "mark": {"type": "point", "filled": true, "size": 38, "opacity": 1, "clip": true},
   "encoding": {
    "x": {"field": "x", "type": "quantitative"},
    "y": {"field": "y", "type": "quantitative"},
    "color": {"field": "phase", "type": "nominal", "scale": {"domain": ["Magnetite(Fe₃O₄)", "Hematite(Fe₂O₃)"], "range": ["#000000", "#ff0000"]}, "legend": {"legendX": 146, "legendY": 3, "rowPadding": 10}},
    "shape": {"field": "phase", "type": "nominal", "scale": {"domain": ["Magnetite(Fe₃O₄)", "Hematite(Fe₂O₃)"], "range": ["square", "circle"]}, "legend": {"legendX": 146, "legendY": 3, "rowPadding": 10}}
   }}
 ]
}
]
}
